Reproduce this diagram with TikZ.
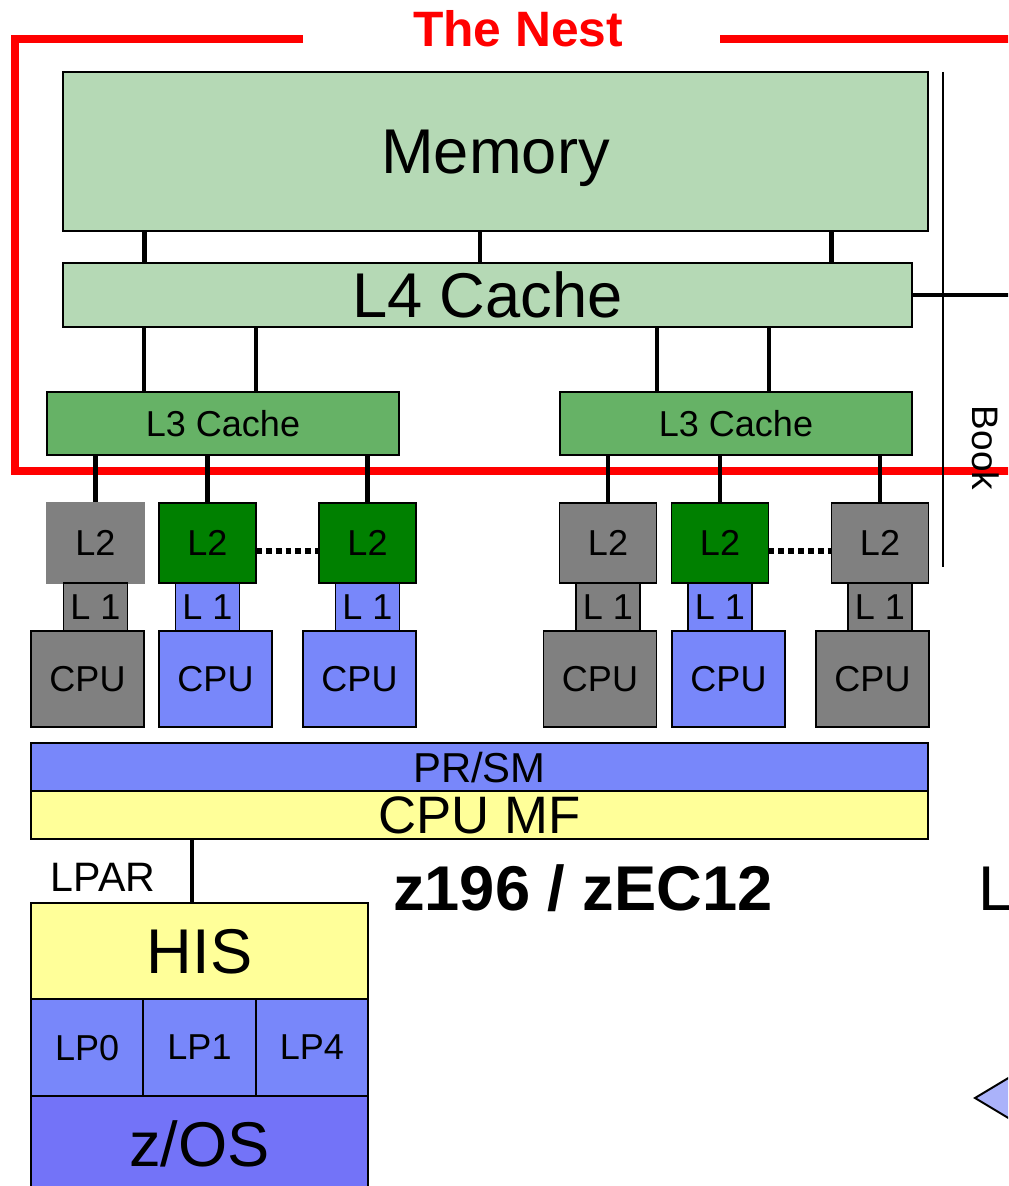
\documentclass[tikz,border=0pt]{standalone}
\usepackage{fontspec}
\setmainfont{Liberation Sans}
\usetikzlibrary{positioning}
\definecolor{memgreen}{RGB}{181,217,181}
\definecolor{cachegreen}{RGB}{102,178,102}
\definecolor{coregreen}{RGB}{0,128,0}
\definecolor{coregray}{RGB}{128,128,128}
\definecolor{cpublue}{RGB}{120,135,250}
\definecolor{zosblue}{RGB}{115,115,248}
\definecolor{hisyellow}{RGB}{255,255,153}
\definecolor{triblue}{RGB}{170,178,250}

\begin{document}
\begin{tikzpicture}[x=0.02cm, y=-0.02cm,
        box/.style={rectangle, draw=black, line width=1.1pt, inner sep=0pt, outer sep=0pt, text depth=0pt, align=center},
        small/.style={font=\fontsize{20.5}{22}\selectfont},
        big/.style={font=\fontsize{36}{40}\selectfont},
        ltwo/.style={box, small, minimum width=1.94cm, minimum height=1.6cm},
        lone/.style={box, small, minimum width=1.28cm, minimum height=0.96cm},
        cpu/.style={box, small, minimum width=2.26cm, minimum height=1.92cm},
        lpbox/.style={box, small, fill=cpublue, minimum width=2.2467cm, minimum height=1.94cm},
        link/.style={line width=2.8pt},
        dots/.style={line width=3.4pt, dash pattern=on 3.4pt off 2.2pt}
    ]
        \useasboundingbox (0,0) rectangle (1008,1186);
        \clip (0,0) rectangle (1008,1186);

        % the nest frame
        \draw[red, line width=4.5pt] (303,39) -- (15,39) -- (15,471) -- (1030,471);
        \draw[red, line width=4.5pt] (720,39) -- (1030,39);
        \node[text=red, font=\bfseries\fontsize{28.3}{30}\selectfont] (NEST) at (518,29) {The Nest};

        % book
        \coordinate (BKTOP) at (943,72);
        \coordinate (BKBOT) at (943,567);
        \draw[line width=1.1pt] (BKTOP) -- (BKBOT);
        \node[font=\fontsize{21}{24}\selectfont, rotate=-90] (BOOK) at (986,448) {Book};

        % memory and caches
        \node[box, big, fill=memgreen, minimum width=17.3cm, minimum height=3.18cm] (MEM) at (495.5,151.5) {Memory};
        \node[box, big, fill=memgreen, minimum width=16.98cm, minimum height=1.28cm] (L4) at (487.5,295) {L4 Cache};
        \node[box, small, fill=cachegreen, minimum width=7.04cm, minimum height=1.26cm] (L3A) at (223,423.5) {L3 Cache};
        \node[box, small, fill=cachegreen, minimum width=7.04cm, minimum height=1.26cm] (L3B) at (736,423.5) {L3 Cache};

        \coordinate (L4OUT) at (1030,295);
        \draw[link] (L4) -- (L4OUT);
        \foreach \dx in {-7.03,-0.31,6.73}
            \draw[link] ([xshift=\dx cm]MEM.south) -- ([xshift=\dx cm]MEM.south |- L4.north);
        \foreach \n in {L3A,L3B}
            \foreach \dx in {-1.58,0.66}
                \draw[link] ([xshift=\dx cm]\n.north) -- ([xshift=\dx cm]\n.north |- L4.south);

        % cores
        \node[ltwo, fill=coregray, draw=none, minimum width=1.98cm, minimum height=1.64cm] (L2A) at (95.5,543) {L2};
        \node[ltwo, fill=coregreen] (L2B) at (207.5,543) {L2};
        \node[ltwo, fill=coregreen] (L2C) at (367.5,543) {L2};
        \node[ltwo, fill=coregray] (L2D) at (608,543) {L2};
        \node[ltwo, fill=coregreen] (L2E) at (720,543) {L2};
        \node[ltwo, fill=coregray] (L2F) at (880,543) {L2};

        \node[lone, fill=coregray, below=-0.02cm of L2A] (L1A) {L 1};
        \node[lone, fill=cpublue, below=0pt of L2B] (L1B) {L 1};
        \node[lone, fill=cpublue, below=0pt of L2C] (L1C) {L 1};
        \node[lone, fill=coregray, below=0pt of L2D] (L1D) {L 1};
        \node[lone, fill=cpublue, below=0pt of L2E] (L1E) {L 1};
        \node[lone, fill=coregray, below=0pt of L2F] (L1F) {L 1};

        \node[cpu, fill=coregray, below=0pt of L1A, xshift=-0.16cm] (CPUA) {CPU};
        \node[cpu, fill=cpublue, below=0pt of L1B, xshift=0.16cm] (CPUB) {CPU};
        \node[cpu, fill=cpublue, below=0pt of L1C, xshift=-0.16cm] (CPUC) {CPU};
        \node[cpu, fill=coregray, below=0pt of L1D, xshift=-0.16cm] (CPUD) {CPU};
        \node[cpu, fill=cpublue, below=0pt of L1E, xshift=0.17cm] (CPUE) {CPU};
        \node[cpu, fill=coregray, below=0pt of L1F, xshift=-0.15cm] (CPUF) {CPU};

        \foreach \a/\b in {L3A/L2A, L3A/L2B, L3A/L2C, L3B/L2D, L3B/L2E, L3B/L2F}
            \draw[link] (\b.north) -- (\b.north |- \a.south);
        \draw[dots] ([yshift=-0.16cm]L2B.east) -- ([yshift=-0.16cm]L2C.west);
        \draw[dots] ([yshift=-0.16cm]L2E.east) -- ([yshift=-0.16cm]L2F.west);

        % firmware
        \node[box, fill=cpublue, font=\fontsize{23.8}{26}\selectfont, minimum width=17.94cm, minimum height=0.96cm] (PRSM) at (479.5,767) {PR/SM};
        \node[box, fill=hisyellow, font=\fontsize{30}{32}\selectfont, minimum width=17.94cm, minimum height=0.96cm, below=0pt of PRSM] (CPUMF) {CPU MF};

        % lpar
        \node[box, big, fill=hisyellow, minimum width=6.74cm, minimum height=1.92cm] (HIS) at (199.5,951) {HIS};
        \node[lpbox, anchor=north west] (LP0) at (HIS.south west) {LP0};
        \node[lpbox, right=0pt of LP0] (LP1) {LP1};
        \node[lpbox, right=0pt of LP1] (LP4) {LP4};
        \node[box, big, fill=zosblue, minimum width=6.74cm, minimum height=1.92cm, anchor=north west] (ZOS) at (LP0.south west) {z/OS};
        \draw[link] ([xshift=-0.15cm]HIS.north) -- ([xshift=-0.15cm]HIS.north |- CPUMF.south);
        \node[font=\fontsize{23.4}{26}\selectfont] (LPAR) at (103,877) {LPAR};

        \node[font=\bfseries\fontsize{36}{40}\selectfont] (MODEL) at (583,888) {z196 / zEC12};
        \node[big, anchor=base west, inner sep=0pt] (LTXT) at (978,910) {L};

        \draw[fill=triblue, line width=1.1pt] (975,1098) -- (1060,1047) -- (1060,1149) -- cycle;
    \end{tikzpicture}
\end{document}
